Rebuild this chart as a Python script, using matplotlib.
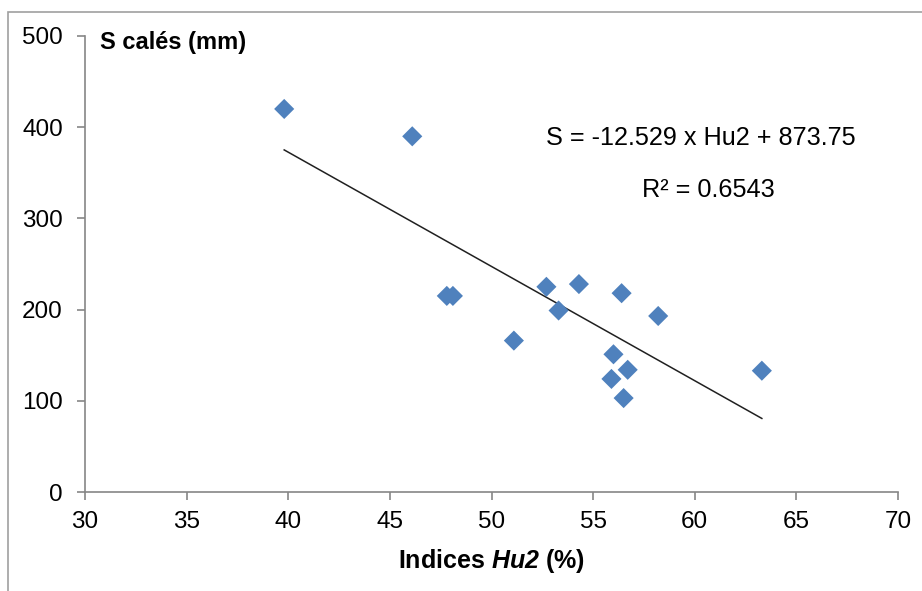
import matplotlib.pyplot as plt
import numpy as np
from matplotlib.patches import Rectangle

plt.rcParams['font.family'] = ['Liberation Sans', 'DejaVu Sans']
plt.rcParams['mathtext.fontset'] = 'custom'
plt.rcParams['mathtext.rm'] = 'Liberation Sans'
plt.rcParams['mathtext.bfit'] = 'Liberation Sans:italic:bold'

# Indices Hu2 (%) et S calés (mm)
hu2 = [39.8, 46.1, 47.8, 48.1, 51.1, 52.7, 53.3, 54.3, 56.4, 56.0, 55.9, 56.7, 56.5, 58.2, 63.3]
s_cales = [420, 390, 215, 215, 166, 225, 199, 228, 218, 151, 124, 134, 103, 193, 133]

# Droite de tendance (Excel)
slope = -12.529
intercept = 873.75
r2 = 0.6543

fig = plt.figure(figsize=(9.22, 5.91), dpi=100)
ax = fig.add_axes([0.0922, 0.1675, 0.8818, 0.7716])

# cadre du graphique
fig.patches.append(Rectangle((8 / 922, -0.1), 1.2, 1 - 12 / 591 + 0.1, transform=fig.transFigure,
                             fill=False, edgecolor='#a0a0a0', linewidth=1.2))

ax.scatter(hu2, s_cales, marker='D', s=105, color='#4f81bd', edgecolors='none', zorder=3)

xt = np.array([min(hu2), max(hu2)])
ax.plot(xt, np.polyval([slope, intercept], xt), color='#202020', linewidth=1.1, zorder=2)

ax.set_xlim(30, 70)
ax.set_ylim(0, 500)
ax.set_xticks(range(30, 71, 5))
ax.set_yticks(range(0, 501, 100))

for side in ['top', 'right']:
    ax.spines[side].set_visible(False)
for side in ['left', 'bottom']:
    ax.spines[side].set_color('#868686')
    ax.spines[side].set_linewidth(1.2)
ax.tick_params(direction='out', length=6, width=1.2, color='#868686', labelsize=17.5)
ax.tick_params(axis='y', pad=10)
ax.tick_params(axis='x', pad=8)

ax.text(0.018, 1.01, 'S calés (mm)', transform=ax.transAxes, fontsize=17, fontweight='bold',
        va='top', ha='left')
ax.text(60.3, 388, 'S = -12.529 x Hu2 + 873.75', fontsize=18.2, ha='center', va='center')
ax.text(60.65, 331, 'R² = %.4f' % r2, fontsize=18.2, ha='center', va='center')

ax.set_xlabel(r'Indices $\mathbfit{Hu2}$ (%)', fontsize=18, fontweight='bold', labelpad=10)

plt.savefig('out.png', dpi=100)
